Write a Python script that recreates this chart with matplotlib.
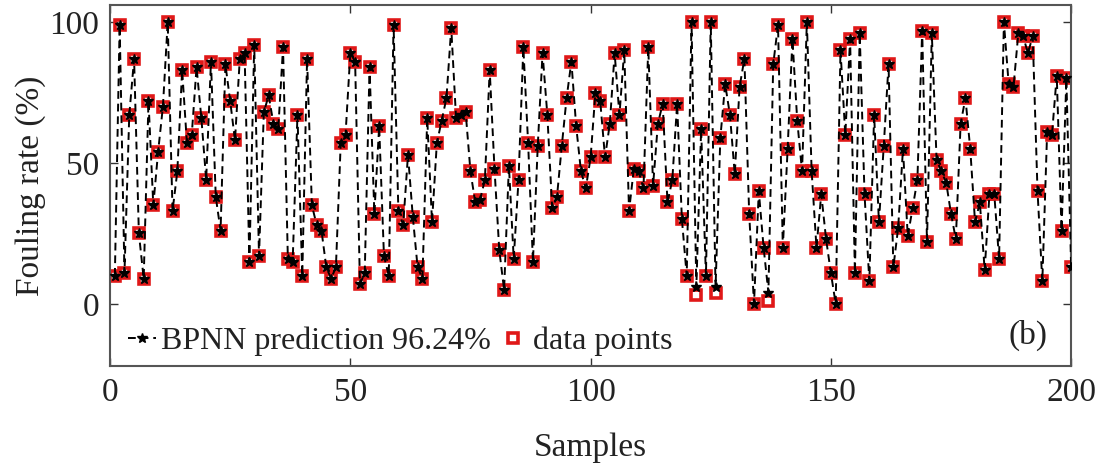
import matplotlib
matplotlib.use('Agg')
import matplotlib.pyplot as plt
import numpy as np

plt.rcParams['font.family'] = ['Liberation Serif', 'DejaVu Serif']

# measured fouling rate (%) for samples 1..200
data = [10, 99, 11, 67, 87, 25, 9, 72, 35, 54,
        70, 100, 33, 47, 83, 57, 60, 84, 66, 44,
        86, 38, 26, 85, 72, 58, 87, 89, 15, 92,
        17, 68, 74, 64, 62, 91, 16, 15, 67, 10,
        87, 35, 28, 26, 13, 9, 13, 57, 60, 89,
        86, 7, 11, 84, 32, 63, 17, 10, 99, 33,
        28, 53, 31, 13, 9, 66, 29, 57, 65, 73,
        98, 66, 67, 68, 47, 36, 37, 44, 83, 48,
        19, 5, 49, 16, 44, 91, 57, 15, 56, 89,
        67, 34, 38, 56, 73, 86, 63, 47, 41, 52,
        75, 72, 52, 64, 89, 67, 90, 33, 48, 47,
        41, 91, 42, 64, 71, 36, 44, 71, 30, 10,
        100, 3, 62, 10, 100, 4, 59, 78, 67, 46,
        77, 87, 32, 0, 40, 20, 1, 85, 99, 20,
        55, 94, 65, 47, 100, 47, 20, 39, 23, 11,
        0, 90, 60, 94, 11, 96, 39, 8, 67, 29,
        56, 85, 13, 27, 55, 24, 34, 44, 97, 22,
        96, 51, 47, 43, 32, 23, 64, 73, 55, 29,
        36, 12, 39, 39, 16, 100, 78, 77, 96, 95,
        89, 95, 40, 8, 61, 60, 81, 26, 80, 13]

# network output: same as data except a few samples
pred = list(data)
pred[121] = 6
pred[125] = 6
pred[136] = 4

samples = np.arange(1, len(data) + 1)

fig = plt.figure(figsize=(11.06, 4.74), dpi=100)
ax = fig.add_axes([0.0995, 0.228, 0.869, 0.761])

ax.plot(samples, data, 's', ms=7, mfc='none', mec='#e01818', mew=2.6,
        label='data points', zorder=2)
ax.plot(samples, pred, '--', color='black', lw=1.4, dashes=(4, 2.5),
        marker='*', ms=7, mfc='black', mec='black',
        label='BPNN prediction 96.24%', zorder=3)

ax.set_xlim(0, 200)
ax.set_ylim(-22, 106)
ax.set_xticks([0, 50, 100, 150, 200])
ax.set_yticks([0, 50, 100])
ax.tick_params(direction='in', top=True, right=True, labelsize=24,
               length=6, width=1, colors='#333333', pad=8)
for lab in ax.get_xticklabels() + ax.get_yticklabels():
    lab.set_color('#222222')
for s in ax.spines.values():
    s.set_linewidth(1.5)
    s.set_color('#555555')

ax.set_xlabel('Samples', fontsize=24, labelpad=18, color='#222222')
ax.set_ylabel('Fouling rate (%)', fontsize=24, labelpad=2, color='#222222')

h, l = ax.get_legend_handles_labels()
leg = ax.legend(h[::-1], l[::-1], loc='lower left', bbox_to_anchor=(-0.005, -0.035),
                ncol=2, frameon=False, fontsize=23, handlelength=0.9,
                handletextpad=0.15, columnspacing=0.25, borderaxespad=0.3)
for t in leg.get_texts():
    t.set_color('#222222')

ax.text(0.955, 0.04, '(b)', transform=ax.transAxes, fontsize=24,
        ha='center', va='bottom', color='#222222')

plt.savefig('out.png', dpi=100)
